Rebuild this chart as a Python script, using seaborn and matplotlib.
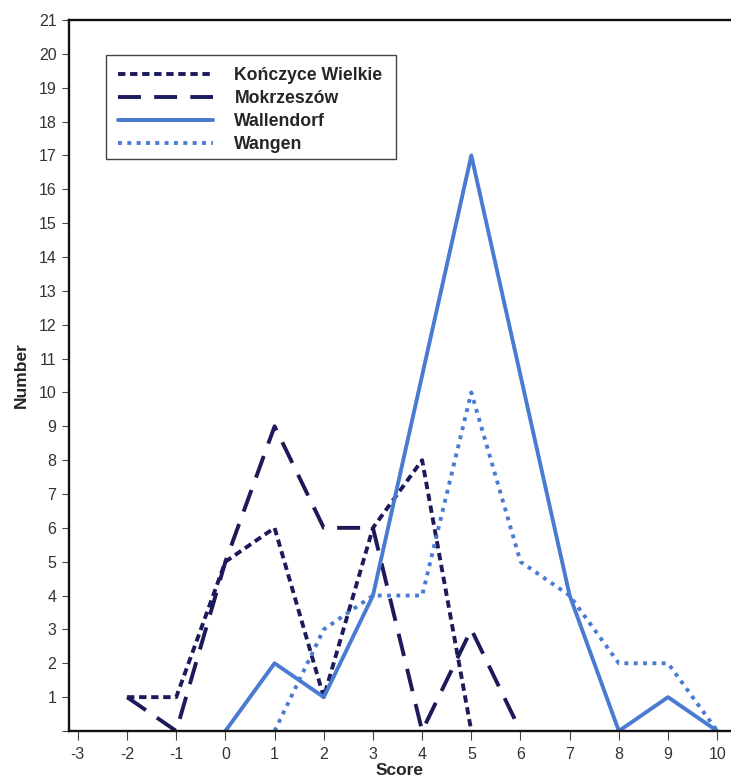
import pandas as pd
import seaborn as sns
import matplotlib.pyplot as plt
from matplotlib.patches import Rectangle

# scores per site
konczyce_x = [-2, -1, 0, 1, 2, 3, 4, 5]
konczyce_y = [1, 1, 5, 6, 1, 6, 8, 0]
mokrzeszow_x = [-2, -1, 0, 1, 2, 3, 4, 5, 6]
mokrzeszow_y = [1, 0, 5, 9, 6, 6, 0, 3, 0]
wallendorf_x = [0, 1, 2, 3, 4, 5, 6, 7, 8, 9, 10]
wallendorf_y = [0, 2, 1, 4, 10.5, 17, 10.5, 4, 0, 1, 0]
wangen_x = [1, 2, 3, 4, 5, 6, 7, 8, 9, 10]
wangen_y = [0, 3, 4, 4, 10, 5, 4, 2, 2, 0]

sites = ['Kończyce Wielkie', 'Mokrzeszów', 'Wallendorf', 'Wangen']
x_ticks = list(range(-3, 11))
y_ticks = list(range(0, 22))

frames = []
for name, xs, ys in zip(sites,
                        [konczyce_x, mokrzeszow_x, wallendorf_x, wangen_x],
                        [konczyce_y, mokrzeszow_y, wallendorf_y, wangen_y]):
    frames.append(pd.DataFrame({'Score': xs, 'Number': ys, 'Site': name}))
data = pd.concat(frames, ignore_index=True)

sns.set_style("ticks")
plt.rcParams['font.family'] = ['Liberation Sans', 'DejaVu Sans']

navy = '#1c1a5a'
blue = '#4a7bd2'
palette = {sites[0]: navy, sites[1]: navy, sites[2]: blue, sites[3]: blue}
dashes = {sites[0]: (1.9, 1.2), sites[1]: (5.9, 3.4), sites[2]: '', sites[3]: (1.0, 1.4)}

fig = plt.figure(figsize=(7.31, 7.8), dpi=100)
ax = fig.add_axes([69 / 731, 49 / 780, 662 / 731, 711 / 780])
sns.lineplot(data=data, x='Score', y='Number', hue='Site', style='Site',
             palette=palette, dashes=dashes, linewidth=2.8, ax=ax, sort=False)

ax.set_xlim(-3.18, 10.28)
ax.set_ylim(0, 21)
ax.set_xticks(x_ticks)
ax.set_xticklabels([str(v) for v in x_ticks], fontsize=11.5, color='#333333')
ax.set_yticks(y_ticks)
ax.set_yticklabels([''] + [str(v) for v in y_ticks[1:]], fontsize=11.5, color='#333333')
ax.tick_params(axis='x', direction='out', length=6.5, width=0.8, color='#444444', pad=5)
ax.tick_params(axis='y', direction='out', length=5, width=0.8, color='#444444', pad=4)

for side in ['left', 'bottom', 'top']:
    ax.spines[side].set_linewidth(1.7)
    ax.spines[side].set_color('#111111')
ax.spines['right'].set_visible(False)

ax.set_xlabel('Score', fontsize=12.5, fontweight='bold', labelpad=1)
ax.set_ylabel('Number', fontsize=12.5, fontweight='bold', labelpad=7)

handles, labels = ax.get_legend_handles_labels()
leg = ax.legend(handles, labels, loc='upper left', bbox_to_anchor=(0.074, 0.934),
                frameon=False, borderpad=0, borderaxespad=0,
                handlelength=5.4, handletextpad=1.2, labelspacing=0.34,
                prop={'weight': 'bold', 'size': 12.7})
ax.add_patch(Rectangle((0.056, 0.804), 0.438, 0.147, transform=ax.transAxes,
                       fill=False, edgecolor='#444444', linewidth=1.0, zorder=5))

plt.savefig('out.png', dpi=100)
